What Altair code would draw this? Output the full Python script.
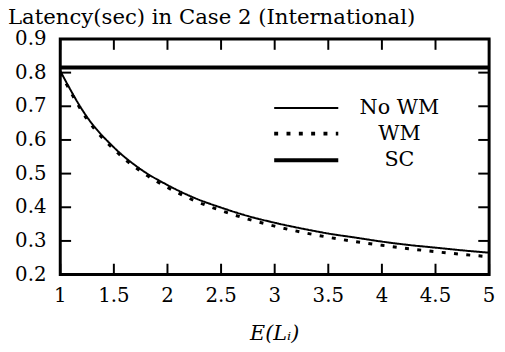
import altair as alt
import pandas as pd

# ---- data ----
x_vals = [1.0, 1.25, 1.5, 1.75, 2.0, 2.25, 2.5, 2.75, 3.0, 3.25, 3.5, 3.75, 4.0, 4.25, 4.5, 4.75, 5.0]
no_wm = [0.805, 0.668, 0.578, 0.513, 0.466, 0.428, 0.399, 0.374, 0.354, 0.337, 0.322, 0.310, 0.298, 0.288, 0.280, 0.272, 0.265]
wm = [0.800, 0.662, 0.572, 0.507, 0.459, 0.420, 0.390, 0.365, 0.344, 0.326, 0.311, 0.298, 0.287, 0.277, 0.268, 0.260, 0.253]
sc_x = [1.0, 5.0]
sc = [0.815, 0.815]

series_names = ["No WM", "WM", "SC"]
x_ticks = [1, 1.5, 2, 2.5, 3, 3.5, 4, 4.5, 5]
y_ticks = [0.2, 0.3, 0.4, 0.5, 0.6, 0.7, 0.8, 0.9]
chart_title = "Latency(sec) in Case 2 (International)"
x_title = "E(Lᵢ)"

W, H = 435, 239
FONT = "DejaVu Serif"
FS = 20
TICK = 11
DASHES = [[1, 0], [4, 8.5], [1, 0]]
WIDTHS = [2, 4, 4]

rows = []
for x, v in zip(x_vals, no_wm):
    rows.append({"x": x, "y": v, "series": "No WM"})
for x, v in zip(x_vals, wm):
    rows.append({"x": x, "y": v, "series": "WM"})
for x, v in zip(sc_x, sc):
    rows.append({"x": x, "y": v, "series": "SC"})
df = pd.DataFrame(rows)

xscale = alt.Scale(domain=[1, 5], nice=False, zero=False)
yscale = alt.Scale(domain=[0.2, 0.9], nice=False, zero=False)

# all three series in one layer
lines = alt.Chart(df).mark_line(color="black", interpolate="monotone", strokeCap="butt").encode(
    x=alt.X("x:Q", scale=xscale, axis=None),
    y=alt.Y("y:Q", scale=yscale, axis=None),
    detail="series:N",
    strokeDash=alt.StrokeDash("series:N", scale=alt.Scale(domain=series_names, range=DASHES), legend=None),
    strokeWidth=alt.StrokeWidth("series:N", scale=alt.Scale(domain=series_names, range=WIDTHS), legend=None),
)

# inward ticks on all four sides
ydf = pd.DataFrame({"yt": y_ticks})
xdf = pd.DataFrame({"xt": x_ticks})
yt_left = alt.Chart(ydf).mark_rule(color="black", strokeWidth=2).encode(
    y=alt.Y("yt:Q", scale=yscale, axis=None), x=alt.value(0), x2=alt.value(TICK))
yt_right = alt.Chart(ydf).mark_rule(color="black", strokeWidth=2).encode(
    y=alt.Y("yt:Q", scale=yscale, axis=None), x=alt.value(W - TICK), x2=alt.value(W))
xt_bot = alt.Chart(xdf).mark_rule(color="black", strokeWidth=2).encode(
    x=alt.X("xt:Q", scale=xscale, axis=None), y=alt.value(H - TICK), y2=alt.value(H))
xt_top = alt.Chart(xdf).mark_rule(color="black", strokeWidth=2).encode(
    x=alt.X("xt:Q", scale=xscale, axis=None), y=alt.value(0), y2=alt.value(TICK))

# tick labels as text placed through the same scales
x_labels = alt.Chart(xdf).mark_text(font=FONT, fontSize=FS, color="black",
                                    align="center", baseline="middle").encode(
    x=alt.X("xt:Q", scale=xscale, axis=None), y=alt.value(H + 22),
    text=alt.Text("xt:Q", format="~g"))
y_labels = alt.Chart(ydf).mark_text(font=FONT, fontSize=FS, color="black",
                                    align="right", baseline="middle").encode(
    y=alt.Y("yt:Q", scale=yscale, axis=None), x=alt.value(-14),
    text=alt.Text("yt:Q", format=".1f"))

# axis title and chart title
tdf = pd.DataFrame({"label": [x_title], "title": [chart_title]})
x_title_mark = alt.Chart(tdf).mark_text(font=FONT, fontSize=21, fontStyle="italic", color="black",
                                        align="center", baseline="middle").encode(
    text="label:N", x=alt.value(W / 2), y=alt.value(H + 60))
title_mark = alt.Chart(tdf).mark_text(font=FONT, fontSize=21.5, color="black",
                                      align="left", baseline="alphabetic").encode(
    text="title:N", x=alt.value(-53), y=alt.value(-15))

# key (legend) drawn inside the plot
key_y = [70, 96, 123]
key_layers = []
for name, dash, sw, ky in zip(series_names, DASHES, WIDTHS, key_y):
    kd = pd.DataFrame({"series": [name]})
    key_layers.append(
        alt.Chart(kd).mark_rule(color="black", strokeWidth=sw, strokeDash=dash, strokeCap="butt").encode(
            x=alt.value(217), x2=alt.value(282), y=alt.value(ky))
    )
    key_layers.append(
        alt.Chart(kd).mark_text(font=FONT, fontSize=21, align="center", baseline="middle",
                                color="black").encode(
            text="series:N", x=alt.value(344), y=alt.value(ky))
    )

chart = alt.layer(
    lines,
    xt_bot, xt_top, yt_left, yt_right,
    x_labels, y_labels, x_title_mark, title_mark,
    *key_layers,
).properties(
    width=W, height=H,
    background="white",
    autosize=alt.AutoSizeParams(type="none"),
    padding={"left": 53, "top": 29, "right": 8, "bottom": 68},
).configure_view(
    stroke="black", strokeWidth=3
)

chart.save("out.html", embed_options={"renderer": "svg", "actions": False})
